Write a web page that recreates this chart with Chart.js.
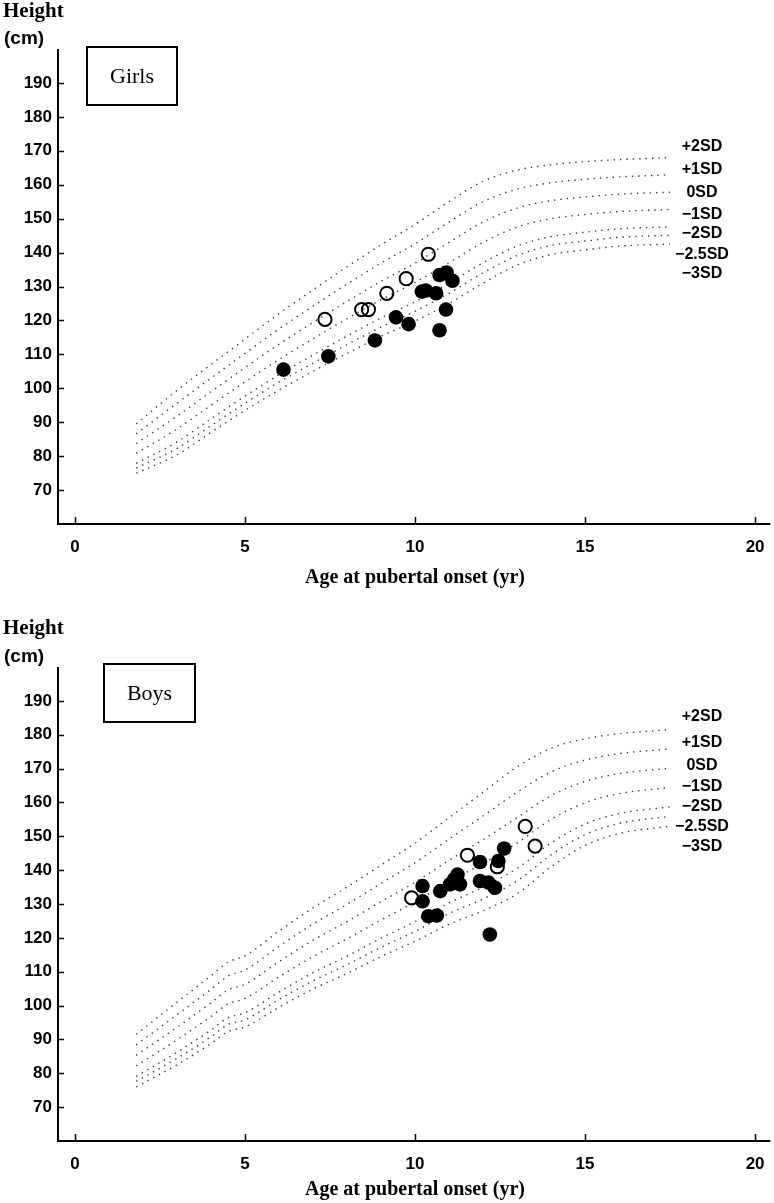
<!DOCTYPE html>
<html><head><meta charset="utf-8">
<script src="https://cdn.jsdelivr.net/npm/chart.js@4.4.1/dist/chart.umd.min.js"></script>
<style>
html,body{margin:0;padding:0;background:#fff;}
body{width:774px;height:1203px;position:relative;overflow:hidden;}
canvas{position:absolute;left:0;}
#c1{top:0}
#c2{top:600px}
</style></head><body>
<canvas id="c1" width="779" height="600"></canvas>
<canvas id="c2" width="779" height="603"></canvas>
<script>
// ---------- DATA ----------
const xTickValues = [0, 5, 10, 15, 20];
const yTickValues = [70, 80, 90, 100, 110, 120, 130, 140, 150, 160, 170, 180, 190];
const sdLabels = ['+2SD', '+1SD', '0SD', '\u22121SD', '\u22122SD', '\u22122.5SD', '\u22123SD'];
const xTitle = 'Age at pubertal onset (yr)';
const yTitle = 'Height';
const yUnit = '(cm)';

const girlsCurveAges = [1.8, 3, 4, 5, 6, 7, 8, 9, 10, 11, 12, 13, 14, 15, 16, 17.5];
const girlsPlus2SD   = [89.5, 99.4, 107.0, 114.5, 122.0, 129.0, 135.8, 142.3, 148.3, 155.0, 161.0, 164.3, 165.9, 166.8, 167.4, 168.0];
const girlsPlus1SD   = [86.6, 95.6, 103.0, 110.3, 117.5, 124.2, 130.7, 136.9, 142.6, 149.0, 155.0, 158.7, 160.6, 161.6, 162.3, 162.9];
const girls0SD       = [83.7, 91.8, 99.0, 106.1, 113.0, 119.4, 125.6, 131.5, 136.9, 143.0, 149.0, 153.1, 155.3, 156.4, 157.2, 157.8];
const girlsMinus1SD  = [80.8, 88.0, 95.0, 101.9, 108.5, 114.6, 120.5, 126.1, 131.2, 137.0, 143.0, 147.5, 150.0, 151.2, 152.1, 152.7];
const girlsMinus2SD  = [77.9, 84.2, 91.0, 97.7, 104.0, 109.8, 115.4, 120.7, 125.5, 131.0, 137.0, 141.9, 144.7, 146.0, 147.0, 147.6];
const girlsMinus25SD = [76.5, 82.3, 89.0, 95.6, 101.8, 107.4, 112.9, 118.0, 122.7, 128.0, 134.0, 139.1, 142.1, 143.4, 144.5, 145.1];
const girlsMinus3SD  = [75.0, 80.4, 87.0, 93.5, 99.5, 105.0, 110.3, 115.3, 119.8, 125.0, 131.0, 136.3, 139.4, 140.8, 141.9, 142.5];

const girlsFilledAge    = [6.13, 7.45, 8.82, 9.44, 9.81, 10.20, 10.32, 10.62, 10.72, 10.93, 11.10, 10.91, 10.72];
const girlsFilledHeight = [105.5, 109.4, 114.1, 120.9, 118.9, 128.5, 128.8, 128.0, 133.4, 134.1, 131.7, 123.2, 117.1];
const girlsOpenAge      = [7.35, 8.43, 8.63, 9.17, 9.74, 10.39];
const girlsOpenHeight   = [120.3, 123.2, 123.2, 128.0, 132.3, 139.5];

const boysCurveAges = [1.8, 3, 4, 4.5, 5, 6, 7, 8, 9, 10, 11, 12, 13, 14, 15, 16, 17.5];
const boysPlus2SD   = [91.5, 101.0, 108.8, 112.8, 114.7, 122.0, 128.9, 135.0, 141.5, 148.0, 155.5, 163.0, 170.5, 176.0, 178.8, 180.3, 181.5];
const boysPlus1SD   = [88.4, 97.3, 104.8, 108.7, 110.5, 117.5, 124.1, 129.9, 136.1, 142.2, 149.2, 156.0, 163.0, 169.0, 172.5, 174.4, 175.8];
const boys0SD       = [85.3, 93.6, 100.8, 104.6, 106.3, 113.0, 119.3, 124.8, 130.7, 136.4, 142.9, 149.0, 155.5, 162.0, 166.2, 168.5, 170.1];
const boysMinus1SD  = [82.2, 89.9, 96.8, 100.5, 102.1, 108.5, 114.5, 119.7, 125.3, 130.6, 136.6, 142.0, 148.0, 155.0, 159.9, 162.6, 164.4];
const boysMinus2SD  = [79.1, 86.2, 92.8, 96.4, 97.9, 104.0, 109.7, 114.6, 119.9, 124.8, 130.3, 135.0, 140.5, 148.0, 153.6, 156.7, 158.7];
const boysMinus25SD = [77.6, 84.4, 90.8, 94.4, 95.8, 101.8, 107.3, 112.1, 117.2, 121.9, 127.2, 131.5, 136.8, 144.5, 150.5, 153.8, 155.9];
const boysMinus3SD  = [76.0, 82.5, 88.8, 92.3, 93.7, 99.5, 104.9, 109.5, 114.5, 119.0, 124.0, 128.0, 133.0, 141.0, 147.3, 150.8, 153.0];

const boysFilledAge    = [10.22, 10.22, 10.39, 10.64, 10.74, 11.03, 11.15, 11.25, 11.32, 11.91, 11.91, 12.16, 12.35, 12.45, 12.62, 12.20];
const boysFilledHeight = [135.3, 130.8, 126.4, 126.6, 133.8, 135.8, 137.3, 138.7, 135.8, 142.4, 136.8, 136.3, 134.8, 142.7, 146.4, 121.0];
const boysOpenAge      = [9.90, 11.54, 12.42, 13.24, 13.53];
const boysOpenHeight   = [131.8, 144.4, 141.0, 152.9, 147.1];

// ---------- BUILD ----------
const pairs = (xs, ys) => xs.map((x, i) => ({x: x, y: ys[i]}));

function curveDS(ages, vals) {
  return {
    data: pairs(ages, vals), showLine: true, pointRadius: 0,
    borderColor: '#3a3a3a', borderWidth: 1.4, borderDash: [1.4, 5],
    cubicInterpolationMode: 'monotone', order: 2
  };
}
function filledDS(a, h) {
  return { data: pairs(a, h), showLine: false, pointRadius: 7.3, pointBackgroundColor: '#000',
    pointBorderColor: '#000', pointBorderWidth: 0, order: 1 };
}
function openDS(a, h) {
  return { data: pairs(a, h), showLine: false, pointRadius: 6.6, pointBackgroundColor: 'rgba(0,0,0,0)',
    pointBorderColor: '#000', pointBorderWidth: 2, order: 0 };
}

function decor(cfg) {
  return {
    id: 'decor',
    afterDraw(chart) {
      const ctx = chart.ctx, xs = chart.scales.x, ys = chart.scales.y, a = chart.chartArea;
      ctx.save();
      ctx.strokeStyle = '#000';
      ctx.lineWidth = 2;
      ctx.beginPath();
      ctx.moveTo(a.left, a.top); ctx.lineTo(a.left, a.bottom); ctx.lineTo(a.right, a.bottom);
      ctx.stroke();
      ctx.lineWidth = 1.5;
      xTickValues.forEach(v => {
        const px = Math.round(xs.getPixelForValue(v)) + 0.5;
        ctx.beginPath(); ctx.moveTo(px, a.bottom); ctx.lineTo(px, a.bottom - 7); ctx.stroke();
      });
      yTickValues.forEach(v => {
        const py = Math.round(ys.getPixelForValue(v)) + 0.5;
        ctx.beginPath(); ctx.moveTo(a.left, py); ctx.lineTo(a.left + 6, py); ctx.stroke();
      });
      // panel box
      ctx.lineWidth = 2;
      ctx.strokeRect(cfg.box[0], cfg.box[1], cfg.box[2], cfg.box[3]);
      ctx.fillStyle = '#000';
      ctx.font = '22px "Liberation Serif", "Times New Roman", serif';
      ctx.textAlign = 'center'; ctx.textBaseline = 'middle';
      ctx.fillText(cfg.name, cfg.box[0] + cfg.box[2] / 2, cfg.box[1] + cfg.box[3] / 2 + 1);
      // y title
      ctx.textAlign = 'left'; ctx.textBaseline = 'alphabetic';
      ctx.font = 'bold 21px "Liberation Serif", serif';
      ctx.fillText(yTitle, 3, cfg.heightY);
      ctx.textBaseline = 'middle';
      ctx.font = 'bold 19px "Liberation Sans", sans-serif';
      ctx.fillText(yUnit, 4, cfg.cmY);
      // SD labels
      ctx.font = 'bold 16px "Liberation Sans", sans-serif';
      ctx.textAlign = 'center';
      sdLabels.forEach((t, i) => ctx.fillText(t, 702, a.top + cfg.sd[i]));
      // x title
      ctx.font = 'bold 20px "Liberation Serif", serif';
      ctx.fillText(xTitle, 415, cfg.xTitleY);
      ctx.restore();
    }
  };
}

function makeChart(id, cfg) {
  const datasets = [
    openDS(cfg.openA, cfg.openH),
    filledDS(cfg.fillA, cfg.fillH)
  ].concat(cfg.curves.map(c => curveDS(cfg.ages, c)));
  return new Chart(document.getElementById(id), {
    type: 'scatter',
    data: { datasets },
    options: {
      responsive: false, animation: false, devicePixelRatio: 1,
      layout: { padding: { top: cfg.top, right: 0, left: 0, bottom: 0 } },
      plugins: { legend: { display: false }, tooltip: { enabled: false } },
      scales: {
        x: {
          type: 'linear', min: -0.5, max: 20.45,
          afterFit: s => { s.height = cfg.xAxisH; },
          grid: { display: false, drawTicks: false }, border: { display: false },
          ticks: { stepSize: 5, includeBounds: false, padding: 13, color: '#000',
            font: { family: '"Liberation Sans", sans-serif', weight: 'bold', size: 17 },
            callback: v => xTickValues.includes(v) ? String(v) : '' }
        },
        y: {
          type: 'linear', min: 60, max: 200,
          afterFit: s => { s.width = 58; },
          grid: { display: false, drawTicks: false }, border: { display: false },
          ticks: { stepSize: 10, padding: 6, color: '#000',
            font: { family: '"Liberation Sans", sans-serif', weight: 'bold', size: 17 },
            callback: v => yTickValues.includes(v) ? String(v) : '' }
        }
      }
    },
    plugins: [decor(cfg)]
  });
}

makeChart('c1', {
  name: 'Girls', box: [87, 47, 90, 58], heightY: 17, cmY: 39,
  top: 49, xAxisH: 76, xTitleY: 578,
  sd: [98, 121, 144, 166, 185, 206, 225],
  ages: girlsCurveAges,
  curves: [girlsPlus2SD, girlsPlus1SD, girls0SD, girlsMinus1SD, girlsMinus2SD, girlsMinus25SD, girlsMinus3SD],
  fillA: girlsFilledAge, fillH: girlsFilledHeight, openA: girlsOpenAge, openH: girlsOpenHeight
});
makeChart('c2', {
  name: 'Boys', box: [104, 64, 91, 58], heightY: 34, cmY: 57,
  top: 67, xAxisH: 62, xTitleY: 590,
  sd: [50, 76, 99, 120, 140, 160, 180],
  ages: boysCurveAges,
  curves: [boysPlus2SD, boysPlus1SD, boys0SD, boysMinus1SD, boysMinus2SD, boysMinus25SD, boysMinus3SD],
  fillA: boysFilledAge, fillH: boysFilledHeight, openA: boysOpenAge, openH: boysOpenHeight
});
</script></body></html>
